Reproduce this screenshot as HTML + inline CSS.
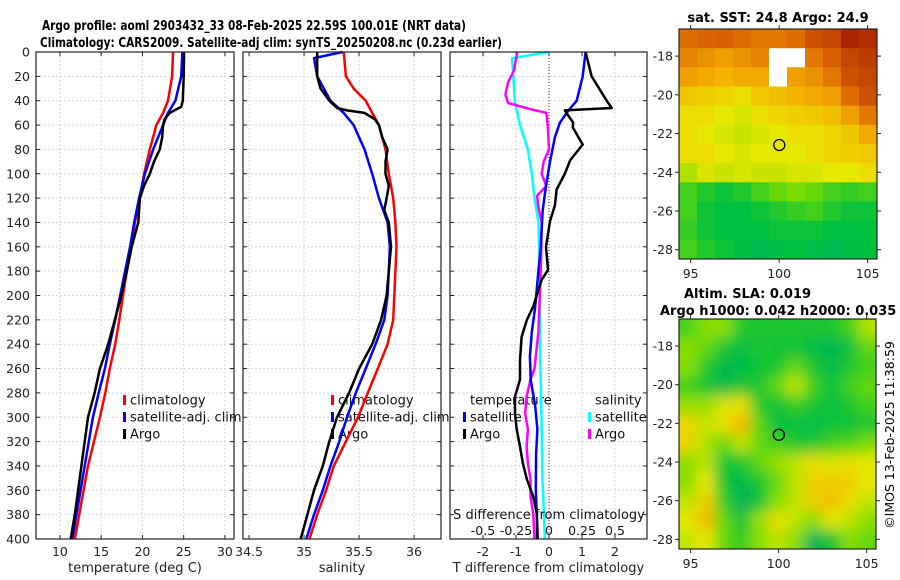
<!DOCTYPE html>
<html><head><meta charset="utf-8">
<style>
body{margin:0;background:#fff;}
svg{display:block;font-family:"DejaVu Sans","Liberation Sans",sans-serif;}
</style></head>
<body>
<svg id="fig" width="900" height="580" viewBox="0 0 900 580" xmlns="http://www.w3.org/2000/svg">
<defs>
<clipPath id="clipM1"><rect x="679" y="29" width="198" height="230"/></clipPath>
<clipPath id="clipM2"><rect x="679" y="319" width="197" height="230"/></clipPath>
<filter id="blur" x="-5%" y="-5%" width="110%" height="110%"><feGaussianBlur stdDeviation="7"/></filter>
</defs>
<text x="42" y="30" font-size="13.5" font-weight="bold" textLength="424" lengthAdjust="spacingAndGlyphs">Argo profile: aoml 2903432_33 08-Feb-2025 22.59S 100.01E (NRT data)</text>
<text x="40" y="47" font-size="13.5" font-weight="bold" textLength="462" lengthAdjust="spacingAndGlyphs">Climatology: CARS2009. Satellite-adj clim: synTS_20250208.nc (0.23d earlier)</text>
<text x="778" y="22" font-size="13" font-weight="bold" text-anchor="middle">sat. SST: 24.8 Argo: 24.9</text>
<text x="684" y="298" font-size="13" font-weight="bold">Altim. SLA: 0.019</text>
<text x="660" y="315" font-size="13" font-weight="bold">Argo h1000: 0.042 h2000: 0.035</text>
<text transform="translate(894,435) rotate(-90)" font-size="12.5" text-anchor="middle">©IMOS 13-Feb-2025 11:38:59</text>
<g id="plots"></g>
</svg>
<script>
// ---- profile data (depth in m) ----
const depthT = [0,20,40,50,60,80,100,120,140,160,180,200,220,240,260,280,300,340,400];
const tempClim = [23.7,23.6,23.1,22.5,21.7,20.9,20.2,19.7,19.1,18.6,18.1,17.65,17.2,16.7,16.05,15.5,14.85,13.4,11.8];
const tempSat  = [24.85,24.7,24.0,23.1,22.5,21.3,20.3,19.6,19.0,18.5,17.9,17.3,16.7,16.05,15.45,14.7,14.0,13.0,11.5];
const depthArgoT = [0,20,40,45,50,55,60,70,80,90,100,110,120,130,140,160,180,200,220,240,260,280,300,320,340,360,380,400];
const tempArgo = [25.05,25.0,24.9,24.7,23.3,22.7,22.5,22.4,22.1,21.4,20.9,20.2,19.7,19.6,19.5,18.7,18.1,17.45,16.65,15.85,14.85,14.2,13.4,13.0,12.6,12.2,11.8,11.3];

const depthS = [0,20,30,40,50,60,80,100,120,140,160,180,200,220,240,260,280,300,320,340,360,380,400];
const salClim = [35.36,35.38,35.45,35.56,35.62,35.68,35.74,35.77,35.81,35.83,35.84,35.83,35.82,35.81,35.76,35.67,35.58,35.49,35.38,35.27,35.2,35.12,35.05];
const depthSatS = [0,5,20,40,50,60,80,100,120,140,160,180,200,220,240,260,280,300,320,340,360,380,400];
const salSat = [35.35,35.09,35.12,35.24,35.36,35.45,35.55,35.62,35.68,35.76,35.78,35.77,35.76,35.73,35.65,35.56,35.47,35.39,35.32,35.24,35.17,35.09,35.02];
const depthArgoS = [0,10,20,30,40,46,48,50,55,60,70,80,90,100,110,120,130,140,160,180,200,220,240,260,280,300,320,340,360,380,400];
const salArgo = [35.12,35.12,35.12,35.15,35.23,35.30,35.39,35.55,35.64,35.68,35.71,35.76,35.74,35.74,35.77,35.75,35.73,35.77,35.79,35.77,35.75,35.70,35.62,35.5,35.41,35.30,35.23,35.17,35.09,35.03,34.97];

// ---- differences from climatology ----
const depthDT = [0,20,40,46,48,58,62,76,89,100,113,126,139,160,179,187,209,220,234,253,269,283,297,310,324,338,351,365,379,400];
const dTArgo = [1.11,1.29,1.75,1.9,0.48,0.73,0.72,1.02,0.64,0.48,0.23,0.18,0.03,-0.09,-0.03,-0.22,-0.48,-0.67,-0.83,-0.88,-0.88,-1.03,-1.03,-0.98,-0.88,-0.79,-0.67,-0.48,-0.37,-0.36];
const depthDTs = [0,20,40,48,58,70,90,110,130,160,180,210,230,250,270,290,310,330,360,400];
const dTSat = [1.11,1.02,0.84,0.59,0.33,0.18,0.03,-0.09,-0.19,-0.25,-0.32,-0.42,-0.52,-0.58,-0.55,-0.42,-0.35,-0.39,-0.4,-0.34];
const depthDS = [0,5,20,40,60,80,100,120,140,180,240,283,310,350,400];
const dSSat = [0,-0.28,-0.27,-0.26,-0.22,-0.16,-0.13,-0.11,-0.08,-0.07,-0.07,-0.06,-0.055,-0.05,-0.03];
const depthDSa = [0,15,25,35,42,47,50,60,80,90,100,110,118,128,140,170,200,230,260,269,283,297,310,324,338,351,365,379,400];
const dSArgo = [-0.24,-0.265,-0.31,-0.33,-0.31,-0.14,-0.02,-0.01,0,-0.04,-0.055,-0.02,-0.09,-0.08,-0.055,-0.06,-0.07,-0.08,-0.11,-0.14,-0.17,-0.18,-0.16,-0.17,-0.16,-0.14,-0.14,-0.12,-0.11];

// ---- map grids (normalised colour value, null = missing) ----
const sstGrid = [
[.82,.84,.85,.82,.80,.80,.82,.88,.90,.97,.95],
[.78,.75,.72,.75,.78,null,null,.80,.85,.90,.92],
[.72,.70,.68,.70,.70,null,.72,.75,.80,.88,.90],
[.62,.60,.58,.55,.62,.65,.68,.70,.72,.82,.88],
[.55,.55,.52,.50,.55,.58,.60,.62,.65,.72,.80],
[.55,.52,.50,.48,.50,.52,.55,.55,.58,.62,.70],
[.55,.55,.52,.50,.52,.52,.52,.55,.58,.60,.62],
[.45,.50,.48,.50,.48,.48,.50,.50,.52,.52,.55],
[.30,.25,.22,.25,.30,.35,.38,.35,.30,.28,.30],
[.30,.22,.20,.20,.22,.25,.28,.30,.25,.22,.22],
[.28,.22,.20,.20,.20,.22,.22,.22,.20,.20,.20],
[.30,.25,.22,.18,.15,.18,.20,.18,.15,.18,.20]];
const slaGrid = [
[.30,.40,.40,.25,.24,.24,.24,.24,.24,.30,.45],
[.40,.35,.24,.18,.24,.22,.22,.18,.14,.20,.35],
[.40,.25,.15,.18,.22,.24,.35,.24,.16,.25,.30],
[.30,.24,.15,.24,.24,.35,.47,.30,.20,.30,.35],
[.42,.42,.50,.55,.25,.22,.28,.24,.20,.24,.30],
[.58,.47,.55,.66,.33,.20,.20,.18,.22,.22,.24],
[.58,.45,.35,.47,.35,.30,.24,.24,.30,.32,.38],
[.40,.47,.22,.24,.35,.42,.47,.55,.50,.55,.52],
[.40,.52,.22,.16,.24,.35,.47,.60,.60,.60,.52],
[.47,.60,.28,.10,.22,.40,.47,.60,.66,.55,.47],
[.52,.66,.35,.22,.42,.55,.47,.40,.52,.47,.40],
[.47,.52,.35,.28,.40,.47,.40,.12,.22,.40,.35]];
const argoLon = 100.01, argoLat = -22.59;

const depthTicks = [0,20,40,60,80,100,120,140,160,180,200,220,240,260,280,300,320,340,360,380,400];
const tempTicks = [10,15,20,25,30];
const salTicks = [34.5,35,35.5,36];
const dTTicks = [-2,-1,0,1,2];
const dSTicks = [-0.5,-0.25,0,0.25,0.5];
const latTicks = [-18,-20,-22,-24,-26,-28];
const lonTicks = [95,100,105];

const NS = "http://www.w3.org/2000/svg";
const root = document.getElementById('plots');
function mk(tag, attrs, parent){const e=document.createElementNS(NS,tag);for(const k in attrs)e.setAttribute(k,attrs[k]);(parent||root).appendChild(e);return e;}

const top0=52, bot0=539;
const yD = d => top0 + d*(bot0-top0)/400;
function lin(d0,d1,p0,p1){return v=>p0+(v-d0)*(p1-p0)/(d1-d0);}

const panels = [
 {name:'temperature-panel', x0:36, x1:234, scale:lin(7.1,31.1,36,234), ticks:tempTicks, title:'temperature (deg C)'},
 {name:'salinity-panel', x0:243, x1:441, scale:lin(34.445,36.245,243,441), ticks:salTicks, title:'salinity'},
 {name:'difference-panel', x0:450, x1:647, scale:lin(-3,2.97,450,647), ticks:dTTicks, title:'T difference from climatology'}
];

function drawPanel(p, i){
  const g = mk('g',{});
  
  
  depthTicks.forEach(d=>{ if(d>0&&d<400){const l=mk('line',{x1:p.x0,x2:p.x1,y1:yD(d),y2:yD(d),stroke:'#d2d6ea','stroke-width':1,'stroke-dasharray':'2,2'},g);
     }});
  p.ticks.forEach(t=>{const x=p.scale(t); const l=mk('line',{x1:x,x2:x,y1:top0,y2:bot0,stroke:'#e2d2d4','stroke-width':1,'stroke-dasharray':'2,2'},g);
     
    const tl=mk('text',{x:x,y:556,'font-size':12.5,'text-anchor':'middle',fill:'#222'},g); tl.textContent=String(t);
     
    mk('line',{x1:x,x2:x,y1:bot0,y2:bot0-4,stroke:'#222'},g); mk('line',{x1:x,x2:x,y1:top0,y2:top0+4,stroke:'#222'},g);});
  depthTicks.forEach(d=>{mk('line',{x1:p.x0,x2:p.x0+4,y1:yD(d),y2:yD(d),stroke:'#222'},g);mk('line',{x1:p.x1,x2:p.x1-4,y1:yD(d),y2:yD(d),stroke:'#222'},g);});
  const at=mk('text',{x:(p.x0+p.x1)/2,y:572,'font-size':13,'text-anchor':'middle',fill:'#222'},g); at.textContent=p.title;
   
  return g;
}
const gs = panels.map(drawPanel);
depthTicks.forEach(d=>{const t=mk('text',{x:30,y:yD(d)+4.5,'font-size':12.5,'text-anchor':'end',fill:'#222'}); t.textContent=String(d);
   });

function line(g, xs, ds, sx, color, name, w){
  const pts = xs.map((v,i)=>sx(v).toFixed(1)+','+yD(ds[i]).toFixed(1)).join(' ');
  const e = mk('polyline',{points:pts,fill:'none',stroke:color,'stroke-width':w||2.5,'stroke-linejoin':'round'},g);
  
  
}
const zl = mk('line',{x1:panels[2].scale(0),x2:panels[2].scale(0),y1:top0,y2:bot0,stroke:'#333','stroke-width':1,'stroke-dasharray':'1,2'},gs[2]);
 

function legend(g, x, y0, items){
  items.forEach((it,k)=>{
    const y=y0+k*17;
    if(it.c){const m=mk('rect',{x:x-7,y:y-5,width:3,height:10,fill:it.c},g);
       }
    const t=mk('text',{x:x,y:y+4.5,'font-size':13,fill:'#111'},g); t.textContent=it.t;
     
  });
}
legend(gs[0],130,400,[{t:'climatology',c:'#ff0000'},{t:'satellite-adj. clim',c:'#0000ff'},{t:'Argo',c:'#000'}]);
legend(gs[1],338,400,[{t:'climatology',c:'#ff0000'},{t:'satellite-adj. clim',c:'#0000ff'},{t:'Argo',c:'#000'}]);
legend(gs[2],470,400,[{t:'temperature'},{t:'satellite',c:'#0000ff'},{t:'Argo',c:'#000'}]);
legend(gs[2],595,400,[{t:'salinity'},{t:'satellite',c:'#00ffff'},{t:'Argo',c:'#ff00ff'}]);

line(gs[0], tempClim, depthT, panels[0].scale, '#ff0000', 'temp-climatology-line');
line(gs[0], tempSat, depthT, panels[0].scale, '#0000ff', 'temp-satellite-line');
line(gs[0], tempArgo, depthArgoT, panels[0].scale, '#000', 'temp-argo-line');
line(gs[1], salClim, depthS, panels[1].scale, '#ff0000', 'sal-climatology-line');
line(gs[1], salSat, depthSatS, panels[1].scale, '#0000ff', 'sal-satellite-line');
line(gs[1], salArgo, depthArgoS, panels[1].scale, '#000', 'sal-argo-line');
const sS = lin(-0.75,0.7425,450,647);
line(gs[2], dSSat, depthDS, sS, '#00ffff', 'sal-diff-satellite-line');
line(gs[2], dSArgo, depthDSa, sS, '#ff00ff', 'sal-diff-argo-line');
line(gs[2], dTSat, depthDTs, panels[2].scale, '#0000ff', 'temp-diff-satellite-line');
line(gs[2], dTArgo, depthDT, panels[2].scale, '#000', 'temp-diff-argo-line');

const sl=mk('text',{x:549,y:519,'font-size':13,'text-anchor':'middle',fill:'#111'},gs[2]); sl.textContent='S difference from climatology';
 
dSTicks.forEach(t=>{const e=mk('text',{x:sS(t),y:535,'font-size':12.5,'text-anchor':'middle',fill:'#111'},gs[2]); e.textContent=String(t);
   });

panels.forEach((p,i)=>{const r=mk('rect',{x:p.x0,y:top0,width:p.x1-p.x0,height:bot0-top0,fill:'none',stroke:'#222','stroke-width':1.2},gs[i]);
   });

// ---- maps ----
const cmapStops=[[0,[0,160,120]],[0.2,[0,192,64]],[0.38,[120,220,0]],[0.52,[230,232,0]],[0.68,[245,180,0]],[0.84,[220,100,0]],[1,[160,20,0]]];
function cmap(v){for(let i=1;i<cmapStops.length;i++){if(v<=cmapStops[i][0]){const a=cmapStops[i-1],b=cmapStops[i];const f=(v-a[0])/(b[0]-a[0]);
  return 'rgb('+a[1].map((c,k)=>Math.round(c+(b[1][k]-c)*f)).join(',')+')';}}return 'rgb(160,20,0)';}

function drawMap(grid, box, name, blur, clip){
  const g=mk('g',{});  
  const inner=mk('g',{'clip-path':'url(#'+clip+')'},g);
  const cells=mk('g',blur?{filter:'url(#blur)'}:{},inner);
  const rows=grid.length, cols=grid[0].length;
  const pad=blur?1:0;
  const cw=(box.x1-box.x0)/cols, ch=(box.y1-box.y0)/rows;
  for(let r=-pad;r<rows+pad;r++)for(let c=-pad;c<cols+pad;c++){
    const rr=Math.min(rows-1,Math.max(0,r)), cc=Math.min(cols-1,Math.max(0,c));
    const v=grid[rr][cc];
    const cell=mk('rect',{x:(box.x0+c*cw).toFixed(1),y:(box.y0+r*ch).toFixed(1),width:(cw+0.6).toFixed(1),height:(ch+0.6).toFixed(1),fill:v===null?'#fff':cmap(v)},cells);
     
  }
  const lonS=lin(box.lon0,box.lon1,box.x0,box.x1), latS=lin(box.lat0,box.lat1,box.y0,box.y1);
  const ci=mk('circle',{cx:lonS(argoLon),cy:latS(argoLat),r:5.5,fill:'none',stroke:'#000','stroke-width':1.3},g);
   
  const fr=mk('rect',{x:box.x0,y:box.y0,width:box.x1-box.x0,height:box.y1-box.y0,fill:'none',stroke:'#222','stroke-width':1.2},g);
   
  latTicks.forEach(t=>{const y=latS(t);mk('line',{x1:box.x0,x2:box.x0-4,y1:y,y2:y,stroke:'#222'},g);mk('line',{x1:box.x1,x2:box.x1+4,y1:y,y2:y,stroke:'#222'},g);
    const tl=mk('text',{x:box.x0-6,y:y+4.5,'font-size':12.5,'text-anchor':'end',fill:'#222'},g); tl.textContent=String(t);
     });
  lonTicks.forEach(t=>{const x=lonS(t);mk('line',{x1:x,x2:x,y1:box.y1,y2:box.y1+4,stroke:'#222'},g);mk('line',{x1:x,x2:x,y1:box.y0,y2:box.y0-4,stroke:'#222'},g);
    const tl=mk('text',{x:x,y:box.y1+19,'font-size':12.5,'text-anchor':'middle',fill:'#222'},g); tl.textContent=String(t);
     });
}
drawMap(sstGrid,{x0:679,x1:877,y0:29,y1:259,lon0:94.34,lon1:105.53,lat0:-16.6,lat1:-28.48},'sst-map',false,'clipM1');
drawMap(slaGrid,{x0:679,x1:876,y0:319,y1:549,lon0:94.34,lon1:105.53,lat0:-16.6,lat1:-28.5},'sla-map',true,'clipM2');
</script>
</body></html>
